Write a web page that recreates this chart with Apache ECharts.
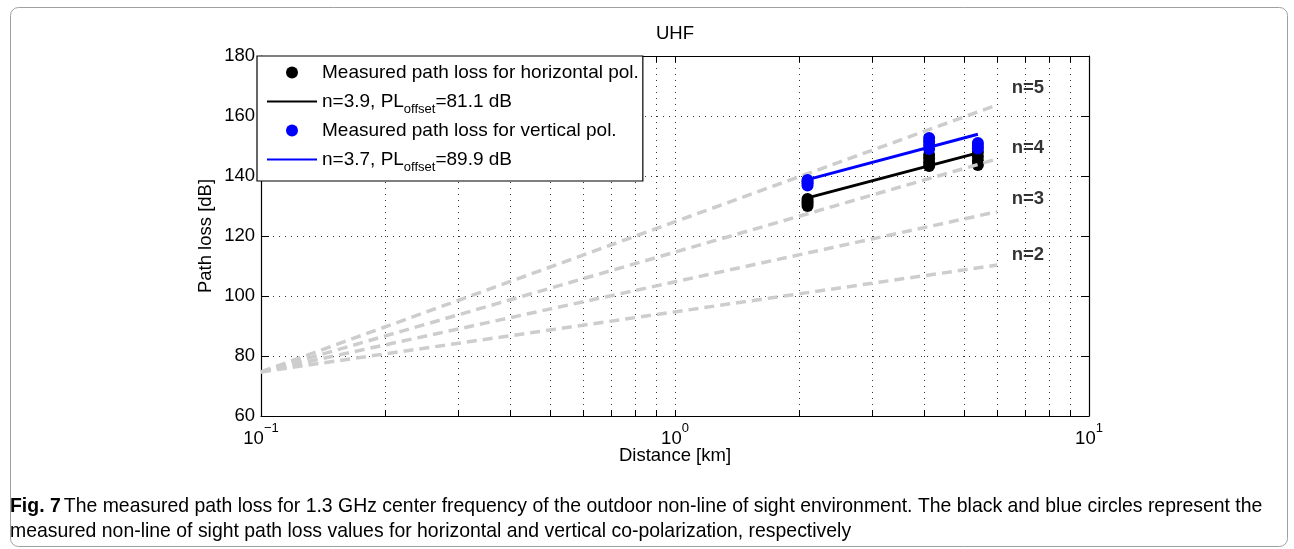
<!DOCTYPE html>
<html>
<head>
<meta charset="utf-8">
<script src="https://cdn.jsdelivr.net/npm/echarts@6/dist/echarts.min.js"></script>
<style>
html,body{margin:0;padding:0;background:#fff;}
#chart{width:1294px;height:549px;}
</style>
</head>
<body>
<div id="chart"></div>
<script>
// ---------- data ----------
const xTickValues = [0.1,0.2,0.3,0.4,0.5,0.6,0.7,0.8,0.9,1,2,3,4,5,6,7,8,9,10];
const xLabelValues = [0.1, 1, 10];
const yTicks = {min: 60, max: 180, interval: 20};

const horizMeasured = [
  [2.09,130.0],[2.09,130.8],[2.09,131.6],[2.09,132.3],
  [4.11,143.3],[4.11,144.5],[4.11,145.8],[4.11,147.0],
  [5.39,143.7],[5.39,145.0],[5.39,146.5],[5.39,148.0]
];
const vertMeasured = [
  [2.09,136.8],[2.09,137.6],[2.09,138.2],[2.09,138.7],
  [4.11,149.0],[4.11,150.3],[4.11,151.5],[4.11,152.7],
  [5.39,149.2],[5.39,150.0],[5.39,151.0]
];
const horizFit = [[2.09,132.7],[5.39,147.7]];
const vertFit  = [[2.09,138.8],[5.39,153.9]];

const refN2 = [[0.1,74.7],[6.0,110.3]];
const refN3 = [[0.1,74.7],[6.0,128.1]];
const refN4 = [[0.1,74.7],[6.0,145.7]];
const refN5 = [[0.1,74.7],[6.0,163.7]];
const refLabels = [
  {name:'n=5', value:[7.12,169.3]},
  {name:'n=4', value:[7.12,149.3]},
  {name:'n=3', value:[7.12,132.3]},
  {name:'n=2', value:[7.12,113.7]}
];

const nameH = 'Measured path loss for horizontal pol.';
const nameHF = 'n=3.9, PL_offset=81.1 dB';
const nameV = 'Measured path loss for vertical pol.';
const nameVF = 'n=3.7, PL_offset=89.9 dB';

const captionLine1 = 'The measured path loss for 1.3 GHz center frequency of the outdoor non-line of sight environment. The black and blue circles represent the';
const captionLine2 = 'measured non-line of sight path loss values for horizontal and vertical co-polarization, respectively';

// ---------- chart ----------
const FONT = 'Liberation Sans, Arial, Helvetica, sans-serif';
const CAPFONT = 'Liberation Sans, Arial, sans-serif';
const chart = echarts.init(document.getElementById('chart'), null, {renderer:'canvas'});

const dashedStyle = {color:'#cdcdcd', width:3.5, type:[10,6]};
function refSeries(name, data){
  return {name:name, type:'line', data:data, symbol:'none', lineStyle:dashedStyle, z:3, silent:true, animation:false};
}

const gridLine = {show:true, lineStyle:{color:'#333', width:1, type:[1,5]}};

const option = {
  animation:false,
  textStyle:{fontFamily:FONT},
  grid:{left:261, top:56, width:828, height:360, containLabel:false},
  legend:{
    data:[
      {name:nameH},
      {name:nameHF, itemStyle:{opacity:0}},
      {name:nameV},
      {name:nameVF, itemStyle:{opacity:0}}
    ],
    orient:'vertical', left:257, top:56,
    padding:[7,4,7,9],
    itemGap:5, itemWidth:50, itemHeight:12,
    backgroundColor:'#fff', borderColor:'#000', borderWidth:1.2,
    selectedMode:false, z:20,
    textStyle:{fontSize:19, color:'#000', fontFamily:FONT,
      rich:{
        m:{fontSize:19, lineHeight:20, color:'#000', fontFamily:FONT},
        sub:{fontSize:13, lineHeight:20, padding:[16,0,0,0], color:'#000', fontFamily:FONT}
      }},
    formatter:function(name){
      if (name.indexOf('_offset') >= 0){
        const parts = name.split('_offset');
        return '{m|' + parts[0] + '}{sub|offset}{m|' + parts[1] + '}';
      }
      return '{m|' + name + '}';
    }
  },
  xAxis:[{
    type:'log', logBase:10, min:0.1, max:10, position:'bottom',
    axisLine:{show:true, onZero:false, lineStyle:{color:'#000', width:1.2}},
    axisTick:{show:true, inside:true, length:6, customValues:xTickValues, lineStyle:{color:'#000'}},
    splitLine:gridLine,
    minorTick:{show:false}, minorSplitLine:{show:false},
    axisLabel:{show:true, customValues:xLabelValues, margin:12, color:'#000',
      formatter:function(v){ const e = Math.round(Math.log10(v)); return '{b|10}{s|' + (e<0 ? '\u2212'+(-e) : e) + '}'; },
      rich:{
        b:{fontSize:18.5, color:'#000', fontFamily:FONT, lineHeight:22},
        s:{fontSize:13, color:'#000', fontFamily:FONT, lineHeight:22, padding:[0,0,22,0]}
      }},
    name:'Distance [km]', nameLocation:'middle', nameGap:30, nameMoveOverlap:false,
    nameTextStyle:{fontSize:18.5, color:'#000', fontFamily:FONT}
  },{
    type:'log', logBase:10, min:0.1, max:10, position:'top',
    axisLine:{show:true, onZero:false, lineStyle:{color:'#000', width:1.2}},
    axisTick:{show:true, inside:true, length:6, customValues:xTickValues, lineStyle:{color:'#000'}},
    splitLine:{show:false}, axisLabel:{show:false}
  }],
  yAxis:[{
    type:'value', min:yTicks.min, max:yTicks.max, interval:yTicks.interval, position:'left',
    axisLine:{show:true, onZero:false, lineStyle:{color:'#000', width:1.2}},
    axisTick:{show:true, inside:true, length:8, lineStyle:{color:'#000'}},
    splitLine:gridLine,
    axisLabel:{fontSize:18.5, color:'#000', margin:6, fontFamily:FONT},
    name:'Path loss [dB]', nameLocation:'middle', nameGap:46, nameMoveOverlap:false,
    nameTextStyle:{fontSize:18.5, color:'#000', fontFamily:FONT}
  },{
    type:'value', min:yTicks.min, max:yTicks.max, interval:yTicks.interval, position:'right',
    axisLine:{show:true, onZero:false, lineStyle:{color:'#000', width:1.2}},
    axisTick:{show:true, inside:true, length:8, lineStyle:{color:'#000'}},
    splitLine:{show:false}, axisLabel:{show:false}
  }],
  series:[
    {name:nameH, type:'scatter', data:horizMeasured, symbol:'circle', symbolSize:12,
      itemStyle:{color:'#000', opacity:1}, z:2},
    refSeries('n=5', refN5), refSeries('n=4', refN4), refSeries('n=3', refN3), refSeries('n=2', refN2),
    {name:nameHF, type:'line', data:horizFit, symbol:'none', lineStyle:{color:'#000', width:3}, itemStyle:{color:'#000'}, z:4},
    {name:nameV, type:'scatter', data:vertMeasured, symbol:'circle', symbolSize:12,
      itemStyle:{color:'#0000ff', opacity:1}, z:5},
    {name:nameVF, type:'line', data:vertFit, symbol:'none', lineStyle:{color:'#0000ff', width:3}, itemStyle:{color:'#0000ff'}, z:6},
    {name:'labels', type:'scatter', data:refLabels, symbolSize:0, silent:true, z:7,
      label:{show:true, position:'inside', formatter:'{b}', fontSize:18.5, fontWeight:'bold', color:'#000', fontFamily:FONT}}
  ],
  graphic:[
    {type:'rect', left:8, top:5, shape:{x:0,y:0,width:1277,height:539,r:8}, silent:true, z:-10,
      style:{fill:'none', stroke:'#a0a0a0', lineWidth:1}},
    {type:'text', x:675, y:34, silent:true,
      style:{text:'UHF', fontSize:18.5, fill:'#000', font:'18.5px ' + FONT, textAlign:'center', textVerticalAlign:'middle'}},
    {type:'text', x:10, y:506, scaleX:0.925, silent:true,
      style:{text:'{b|Fig. 7} {t|' + captionLine1 + '}', textVerticalAlign:'middle', textAlign:'left',
        rich:{b:{fontSize:21, fontWeight:'bold', fontFamily:CAPFONT, fill:'#000'},
              t:{fontSize:21, fontFamily:CAPFONT, fill:'#000'}}}},
    {type:'text', x:10, y:531, scaleX:0.925, silent:true,
      style:{text:captionLine2, textVerticalAlign:'middle', textAlign:'left',
        fontSize:21, fontFamily:CAPFONT, fill:'#000'}}
  ]
};
chart.setOption(option);
</script>
</body>
</html>
